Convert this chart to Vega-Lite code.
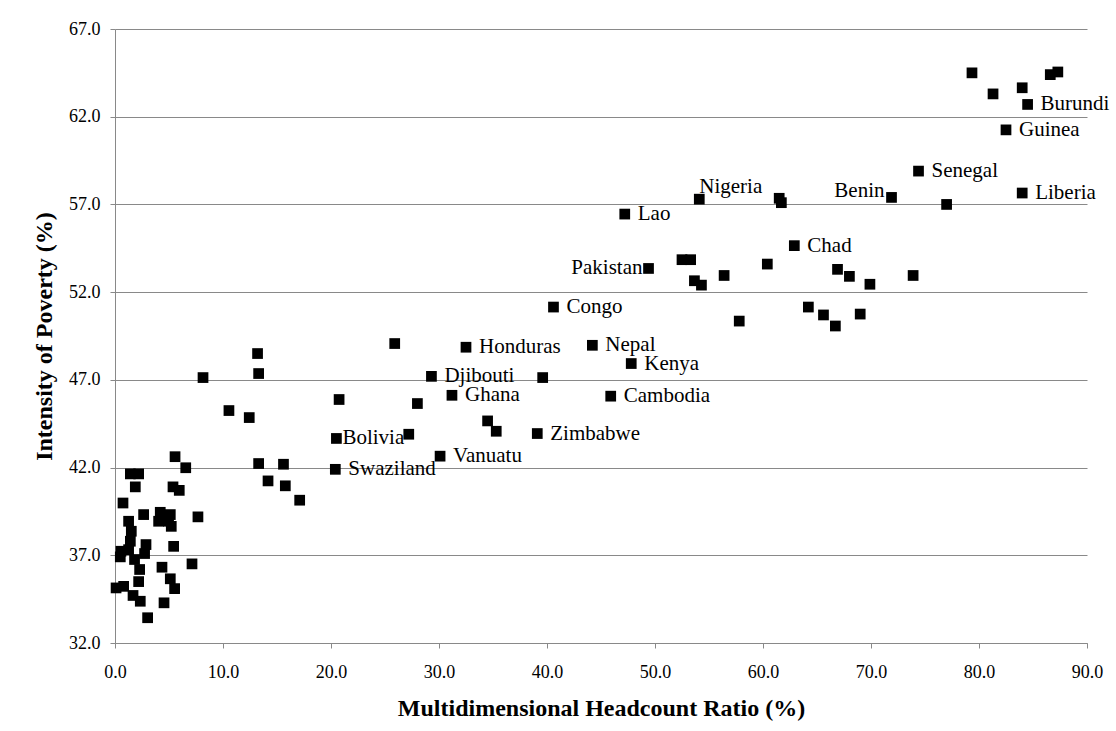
{
  "$schema": "https://vega.github.io/schema/vega-lite/v6.json",
  "width": 972,
  "height": 614,
  "autosize": {"type": "none"},
  "padding": {"left": 115, "top": 29, "right": 29, "bottom": 88},
  "background": "white",
  "config": {"view": {"stroke": null}, "font": "'Liberation Serif', 'Times New Roman', serif"},
  "data": {
    "values": [
      {"headcount": 79.35, "intensity": 64.5},
      {"headcount": 81.3, "intensity": 63.3},
      {"headcount": 84.0, "intensity": 63.65},
      {"headcount": 86.6, "intensity": 64.4},
      {"headcount": 87.3, "intensity": 64.55},
      {"headcount": 84.5, "intensity": 62.7, "label": "Burundi"},
      {"headcount": 82.5, "intensity": 61.25, "label": "Guinea"},
      {"headcount": 74.4, "intensity": 58.9, "label": "Senegal"},
      {"headcount": 84.0, "intensity": 57.65, "label": "Liberia"},
      {"headcount": 71.9, "intensity": 57.4, "label": "Benin"},
      {"headcount": 77.0, "intensity": 57.0},
      {"headcount": 61.5, "intensity": 57.35},
      {"headcount": 61.7, "intensity": 57.1},
      {"headcount": 54.1, "intensity": 57.3, "label": "Nigeria"},
      {"headcount": 47.2, "intensity": 56.45, "label": "Lao"},
      {"headcount": 62.9, "intensity": 54.65, "label": "Chad"},
      {"headcount": 60.4, "intensity": 53.6},
      {"headcount": 66.9, "intensity": 53.3},
      {"headcount": 68.0, "intensity": 52.9},
      {"headcount": 69.9, "intensity": 52.45},
      {"headcount": 73.9, "intensity": 52.95},
      {"headcount": 64.2, "intensity": 51.15},
      {"headcount": 65.6, "intensity": 50.7},
      {"headcount": 66.7, "intensity": 50.07},
      {"headcount": 69.0, "intensity": 50.75},
      {"headcount": 57.8, "intensity": 50.35},
      {"headcount": 56.4, "intensity": 52.95},
      {"headcount": 52.5, "intensity": 53.85},
      {"headcount": 53.3, "intensity": 53.85},
      {"headcount": 53.65, "intensity": 52.65},
      {"headcount": 54.3, "intensity": 52.4},
      {"headcount": 49.4, "intensity": 53.35, "label": "Pakistan"},
      {"headcount": 40.6, "intensity": 51.15, "label": "Congo"},
      {"headcount": 44.2, "intensity": 48.97, "label": "Nepal"},
      {"headcount": 47.8, "intensity": 47.93, "label": "Kenya"},
      {"headcount": 45.9, "intensity": 46.07, "label": "Cambodia"},
      {"headcount": 39.6, "intensity": 47.13},
      {"headcount": 32.5, "intensity": 48.86, "label": "Honduras"},
      {"headcount": 25.9, "intensity": 49.07},
      {"headcount": 29.3, "intensity": 47.2, "label": "Djibouti"},
      {"headcount": 31.2, "intensity": 46.12, "label": "Ghana"},
      {"headcount": 28.0, "intensity": 45.65},
      {"headcount": 27.2, "intensity": 43.9},
      {"headcount": 34.5, "intensity": 44.66},
      {"headcount": 35.3, "intensity": 44.07},
      {"headcount": 39.1, "intensity": 43.94, "label": "Zimbabwe"},
      {"headcount": 30.1, "intensity": 42.65, "label": "Vanuatu"},
      {"headcount": 20.5, "intensity": 43.66, "label": "Bolivia"},
      {"headcount": 20.4, "intensity": 41.9, "label": "Swaziland"},
      {"headcount": 20.75, "intensity": 45.88},
      {"headcount": 8.15, "intensity": 47.13},
      {"headcount": 13.2, "intensity": 48.5},
      {"headcount": 13.3, "intensity": 47.36},
      {"headcount": 10.55, "intensity": 45.25},
      {"headcount": 12.43, "intensity": 44.85},
      {"headcount": 13.3, "intensity": 42.23},
      {"headcount": 15.6, "intensity": 42.19},
      {"headcount": 14.17, "intensity": 41.24},
      {"headcount": 15.77, "intensity": 40.96},
      {"headcount": 17.1, "intensity": 40.14},
      {"headcount": 5.56, "intensity": 42.62},
      {"headcount": 6.55, "intensity": 41.99},
      {"headcount": 1.42, "intensity": 41.64},
      {"headcount": 2.19, "intensity": 41.64},
      {"headcount": 1.88, "intensity": 40.9},
      {"headcount": 5.37, "intensity": 40.9},
      {"headcount": 5.95, "intensity": 40.7},
      {"headcount": 0.74, "intensity": 39.98},
      {"headcount": 2.65, "intensity": 39.32},
      {"headcount": 4.19, "intensity": 39.45},
      {"headcount": 5.12, "intensity": 39.32},
      {"headcount": 4.04, "intensity": 38.94},
      {"headcount": 4.96, "intensity": 38.94},
      {"headcount": 5.21, "intensity": 38.65},
      {"headcount": 7.68, "intensity": 39.19},
      {"headcount": 1.26, "intensity": 38.94},
      {"headcount": 1.51, "intensity": 38.37},
      {"headcount": 1.42, "intensity": 37.8},
      {"headcount": 2.87, "intensity": 37.61},
      {"headcount": 0.55, "intensity": 37.23},
      {"headcount": 1.26, "intensity": 37.32},
      {"headcount": 0.49, "intensity": 36.91},
      {"headcount": 2.74, "intensity": 37.1},
      {"headcount": 5.43, "intensity": 37.51},
      {"headcount": 1.81, "intensity": 36.76},
      {"headcount": 2.28, "intensity": 36.19},
      {"headcount": 4.35, "intensity": 36.32},
      {"headcount": 7.13, "intensity": 36.51},
      {"headcount": 2.19, "intensity": 35.5},
      {"headcount": 5.12, "intensity": 35.66},
      {"headcount": 5.52, "intensity": 35.1},
      {"headcount": 0.1, "intensity": 35.14},
      {"headcount": 0.8, "intensity": 35.23},
      {"headcount": 1.67, "intensity": 34.71},
      {"headcount": 2.34, "intensity": 34.38},
      {"headcount": 4.54, "intensity": 34.29},
      {"headcount": 3.02, "intensity": 33.44}
    ]
  },
  "encoding": {
    "x": {
      "field": "headcount",
      "type": "quantitative",
      "scale": {"domain": [0, 90], "nice": false, "zero": false},
      "axis": {
        "values": [0, 10, 20, 30, 40, 50, 60, 70, 80, 90],
        "format": ".1f",
        "grid": false,
        "domainColor": "#898989",
        "tickColor": "#898989",
        "tickSize": 5,
        "labelPadding": 15,
        "labelFontSize": 18,
        "labelColor": "black",
        "labelFont": "'Liberation Serif', 'Times New Roman', serif",
        "labelFlush": false,
        "title": "Multidimensional Headcount Ratio (%)",
        "titleFont": "'Liberation Serif', 'Times New Roman', serif",
        "titleFontSize": 24,
        "titleFontWeight": "bold",
        "titleColor": "black",
        "titleBaseline": "alphabetic",
        "titleY": 72
      }
    },
    "y": {
      "field": "intensity",
      "type": "quantitative",
      "scale": {"domain": [32, 67], "nice": false, "zero": false},
      "axis": {
        "values": [32, 37, 42, 47, 52, 57, 62, 67],
        "format": ".1f",
        "grid": true,
        "gridColor": "#898989",
        "gridWidth": 1,
        "domainColor": "#898989",
        "tickColor": "#898989",
        "tickSize": 5,
        "labelPadding": 10,
        "labelFontSize": 18,
        "labelColor": "black",
        "labelFont": "'Liberation Serif', 'Times New Roman', serif",
        "labelFlush": false,
        "title": "Intensity of Poverty (%)",
        "titleFont": "'Liberation Serif', 'Times New Roman', serif",
        "titleFontSize": 24,
        "titleFontWeight": "bold",
        "titleColor": "black",
        "titleBaseline": "alphabetic",
        "titleAngle": 270,
        "titleX": -64
      }
    }
  },
  "layer": [
    {
      "mark": {"type": "point", "shape": "square", "filled": true, "color": "black", "size": 115, "opacity": 1}
    },
    {
      "transform": [{"filter": "isValid(datum.label) && indexof(['Pakistan','Benin','Nigeria','Bolivia'], datum.label) < 0"}],
      "mark": {"type": "text", "align": "left", "baseline": "middle", "dx": 13, "fontSize": 21, "font": "'Liberation Serif', 'Times New Roman', serif", "color": "black"},
      "encoding": {"text": {"field": "label"}}
    },
    {
      "transform": [{"filter": "datum.label == 'Pakistan'"}],
      "mark": {"type": "text", "align": "right", "baseline": "middle", "dx": -6, "fontSize": 21, "font": "'Liberation Serif', 'Times New Roman', serif", "color": "black"},
      "encoding": {"text": {"field": "label"}}
    },
    {
      "transform": [{"filter": "datum.label == 'Benin'"}],
      "mark": {"type": "text", "align": "right", "baseline": "middle", "dx": -7, "dy": -6, "fontSize": 21, "font": "'Liberation Serif', 'Times New Roman', serif", "color": "black"},
      "encoding": {"text": {"field": "label"}}
    },
    {
      "transform": [{"filter": "datum.label == 'Nigeria'"}],
      "mark": {"type": "text", "align": "left", "baseline": "alphabetic", "dx": 0, "dy": -6, "fontSize": 21, "font": "'Liberation Serif', 'Times New Roman', serif", "color": "black"},
      "encoding": {"text": {"field": "label"}}
    },
    {
      "transform": [{"filter": "datum.label == 'Bolivia'"}],
      "mark": {"type": "text", "align": "left", "baseline": "middle", "dx": 6, "fontSize": 21, "font": "'Liberation Serif', 'Times New Roman', serif", "color": "black"},
      "encoding": {"text": {"field": "label"}}
    }
  ]
}
